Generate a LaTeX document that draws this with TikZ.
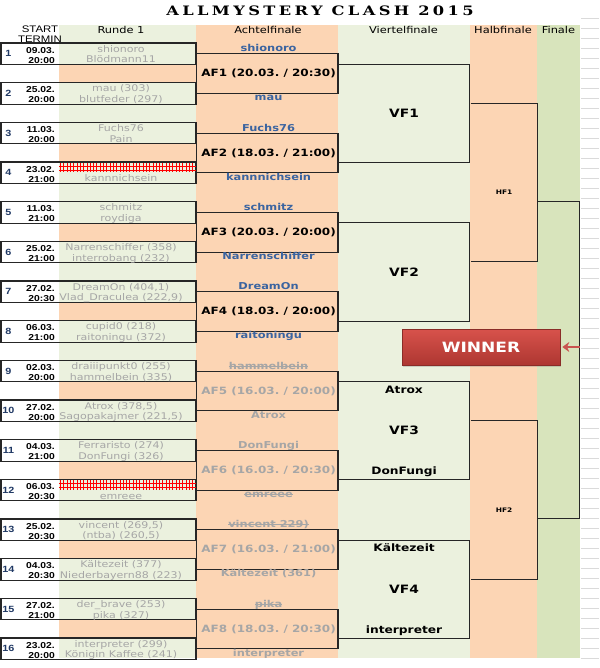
\documentclass[tikz,border=0pt]{standalone}
\usepackage{fontspec}
\setmainfont{DejaVu Sans}[FakeStretch=1.2]
\newfontfamily\datefont{Liberation Sans}[FakeStretch=1.2]
\newfontfamily\titlefont{DejaVu Serif}[FakeStretch=1.25,LetterSpace=26]
\usetikzlibrary{calc,arrows.meta,shadows}

\definecolor{rundegruen}{HTML}{EBF1DE}
\definecolor{achtelorange}{HTML}{FCD5B4}
\definecolor{finalgruen}{HTML}{D8E4BC}
\definecolor{siegerblau}{HTML}{3B64A0}
\definecolor{hellgrau}{HTML}{A6A6A6}
\definecolor{nummerblau}{HTML}{1F3864}
\definecolor{rahmen}{HTML}{262626}
\definecolor{gitter}{HTML}{DADADA}
\definecolor{winrot}{HTML}{D4433C}
\definecolor{pfeilrot}{HTML}{C9544F}

% durchgestrichener Name
\newsavebox\durchbox
\newcommand\durch[1]{\sbox\durchbox{#1}\rlap{\usebox\durchbox}\rule[2.6pt]{\wd\durchbox}{0.9pt}}

\tikzset{
  spiel/.style={draw=rahmen, line width=1.1pt, minimum width=195pt, minimum height=21.5pt, inner sep=0pt},
  klammer/.style={draw=rahmen, line width=1.1pt},
  spieler/.style={font=\fontsize{9.2}{10.7}\selectfont, text=hellgrau, align=center, inner sep=0pt},
  termin/.style={font=\datefont\bfseries\fontsize{8.6}{10}\selectfont, align=right, anchor=east, inner sep=0pt},
  nummer/.style={font=\datefont\bfseries\fontsize{9}{11}\selectfont, text=nummerblau, inner sep=0pt},
  kopf/.style={font=\fontsize{9.5}{10}\selectfont, inner sep=0pt},
  aflabel/.style={font=\bfseries\fontsize{10}{12}\selectfont, inner sep=0pt},
  afname/.style={font=\bfseries\fontsize{9.5}{11}\selectfont, text height=7pt, text depth=2pt, inner sep=0pt},
  vflabel/.style={font=\bfseries\fontsize{11.5}{13}\selectfont, inner sep=0pt},
  vfname/.style={font=\bfseries\fontsize{10.2}{12}\selectfont, text height=7.5pt, text depth=2pt, inner sep=0pt},
  hflabel/.style={font=\bfseries\fontsize{6.2}{7}\selectfont, inner sep=0pt},
  winbox/.style={draw=winrot!65!black, line width=0.6pt, top color=winrot!92!white, bottom color=winrot!82!black,
    minimum width=158pt, minimum height=36pt, font=\bfseries\fontsize{14.2}{16}\selectfont, text=white,
    drop shadow={opacity=0.3, shadow xshift=1.2pt, shadow yshift=-1.5pt}},
}

\begin{document}
\begin{tikzpicture}[x=1pt, y=-1pt]
    \useasboundingbox (0,0) rectangle (599,668);
    % Hintergrund der Spalten
    \fill[white] (0,0) rectangle (599,668);
    \fill[rundegruen] (59,25) rectangle (196,658);
    \fill[achtelorange] (196,25) rectangle (338,658);
    \fill[rundegruen] (338,25) rectangle (470,658);
    \fill[achtelorange] (470,25) rectangle (537,658);
    \fill[finalgruen] (537,25) rectangle (580,658);
    \foreach \k in {0,...,7} {
        % orange Zeilen zwischen zwei Spielen
        \fill[achtelorange] (59,{64.5+79.333*\k}) rectangle (196,{82.67+79.333*\k});
      }
    % Gitterlinien rechts
    \foreach \k in {0,...,64} {
        \draw[gitter, line width=0.8pt] (581,{18+10*\k}) -- (599,{18+10*\k});
      }

    % Titel und Kopfzeile
    \node[font=\titlefont\bfseries\fontsize{13}{14}\selectfont, inner sep=0pt] (titel) at (320,10.5) {ALLMYSTERY CLASH 2015};
    \node[kopf, font=\datefont\fontsize{9.5}{10}\selectfont, align=center] (kstart) at (40,34) {START\\TERMIN};
    \node[kopf] (krunde) at (121,30) {Runde 1};
    \node[kopf] (kachtel) at (268,30) {Achtelfinale};
    \node[kopf] (kviertel) at (403.5,30) {Viertelfinale};
    \node[kopf] (khalb) at (503,30) {Halbfinale};
    \node[kopf] (kfinale) at (558.5,30) {Finale};

    % Runde 1
    \foreach \i/\datum/\zeit/\oben/\unten in {
        1/09.03./20:00/shionoro/Blödmann11,
        2/25.02./20:00/mau (303)/blutfeder (297),
        3/11.03./20:00/Fuchs76/Pain,
        4/23.02./21:00//kannnichsein,
        5/11.03./21:00/schmitz/roydiga,
        6/25.02./21:00/Narrenschiffer (358)/interrobang (232),
        7/27.02./20:30/{DreamOn (404,1)}/{Vlad\_Draculea (222,9)},
        8/06.03./21:00/cupid0 (218)/raitoningu (372),
        9/02.03./20:00/draiiipunkt0 (255)/hammelbein (335),
        10/27.02./20:00/{Atrox (378,5)}/{Sagopakajmer (221,5)},
        11/04.03./21:00/Ferraristo (274)/DonFungi (326),
        12/06.03./20:30//emreee,
        13/25.02./20:30/{vincent (269,5)}/{(ntba) (260,5)},
        14/04.03./20:30/Kältezeit (377)/Niederbayern88 (223),
        15/27.02./21:00/der\_brave (253)/pika (327),
        16/23.02./20:00/interpreter (299)/Königin Kaffee (241)} {
        \pgfmathsetmacro\ym{53.75+39.667*(\i-1)}
        \node[spiel] (m\i) at (98.5,\ym) {};
        \node[nummer] (n\i) at (8.5,\ym) {\i};
        \node[termin] (t\i) at (55,{\ym+2.5}) {\strut\datum\\\strut\zeit};
        \begin{scope}
          \clip (59,0) rectangle (196,668);
          \node[spieler] (p\i) at (121,{\ym+1.5}) {\strut\oben\\\strut\unten};
        \end{scope}
      }
    % rot gestrichene Namen
    \foreach \i in {4,12} {
        \pgfmathsetmacro\yt{43+39.667*(\i-1)}
        \foreach \x in {60.5,63.8,...,195} {
            \draw[red, line width=0.8pt] (\x,{\yt+0.6}) -- (\x,{\yt+10.4});
          }
        \draw[red, line width=0.9pt] (59,{\yt+4.5}) -- (196,{\yt+4.5}) (59,{\yt+8}) -- (196,{\yt+8});
      }

    % Achtelfinale
    \coordinate (afr) at (338,0);
    \foreach \k/\datum/\zeit/\oben/\unten/\lc/\nc in {
        1/20.03./20:30/shionoro/mau/black/siegerblau,
        2/18.03./21:00/Fuchs76/kannnichsein/black/siegerblau,
        3/20.03./20:00/schmitz/Narrenschiffer/black/siegerblau,
        4/18.03./20:00/DreamOn/raitoningu/black/siegerblau,
        5/16.03./20:00/\durch{hammelbein}/Atrox/hellgrau/hellgrau,
        6/16.03./20:30/DonFungi/\durch{emreee}/hellgrau/hellgrau,
        7/16.03./21:00/\durch{vincent 229)}/Kältezeit (361)/hellgrau/hellgrau,
        8/18.03./20:30/\durch{pika}/interpreter/hellgrau/hellgrau} {
        \pgfmathtruncatemacro\ob{2*\k-1}
        \pgfmathtruncatemacro\un{2*\k}
        \draw[klammer] (m\ob.east) -- (m\ob.east -| afr) -- (m\un.east -| afr) -- (m\un.east) -- cycle;
        \node[aflabel, text=\lc] (af\k) at ($(m\ob.east)!0.5!(m\un.east)+(72,0)$) {AF\k\ (\datum\ / \zeit)};
        \node[afname, text=\nc] (afo\k) at ($(m\ob.east)+(72,-4.5)$) {\oben};
        \node[afname, text=\nc] (afu\k) at ($(m\un.east)+(72,5)$) {\unten};
      }

    % Viertelfinale
    \foreach \j in {1,...,4} {
        \pgfmathtruncatemacro\ob{2*\j-1}
        \pgfmathtruncatemacro\un{2*\j}
        \draw[klammer] ($(af\ob)+(70,-9.5)$) -- ++(131,0) |- ($(af\un)+(70,9.5)$);
        \node[vflabel] (vf\j) at ($(af\ob)!0.5!(af\un)+(135.5,0)$) {VF\j};
      }
    \node[vfname] (vfo3) at ($(vf3)+(0,-40)$) {Atrox};
    \node[vfname] (vfu3) at ($(vf3)+(0,41.5)$) {DonFungi};
    \node[vfname] (vfo4) at ($(vf4)+(0,-40.5)$) {Kältezeit};
    \node[vfname] (vfu4) at ($(vf4)+(0,41.5)$) {interpreter};

    % Halbfinale und Finale
    \foreach \h in {1,2} {
        \pgfmathtruncatemacro\ob{2*\h-1}
        \pgfmathtruncatemacro\un{2*\h}
        \draw[klammer] ($(vf\ob)+(66.5,-10)$) -- ++(67,0) |- ($(vf\un)+(66.5,-10)$);
        \node[hflabel] (hf\h) at ($(vf\ob)!0.5!(vf\un)+(100,0)$) {HF\h};
      }
    \draw[klammer] ($(hf1)+(33.5,9)$) -- ++(42,0) |- ($(hf2)+(33.5,9)$);
    \coordinate (fin) at ($(hf1)!0.5!(hf2)+(75.5,0)$);

    % Sieger
    \node[winbox] (win) at (481,347) {WINNER};
    \draw[pfeilrot, line width=2pt, -{Stealth[length=7pt,width=10pt]}] (win.east -| fin) -- ([xshift=2pt]win.east);
  \end{tikzpicture}
\end{document}
